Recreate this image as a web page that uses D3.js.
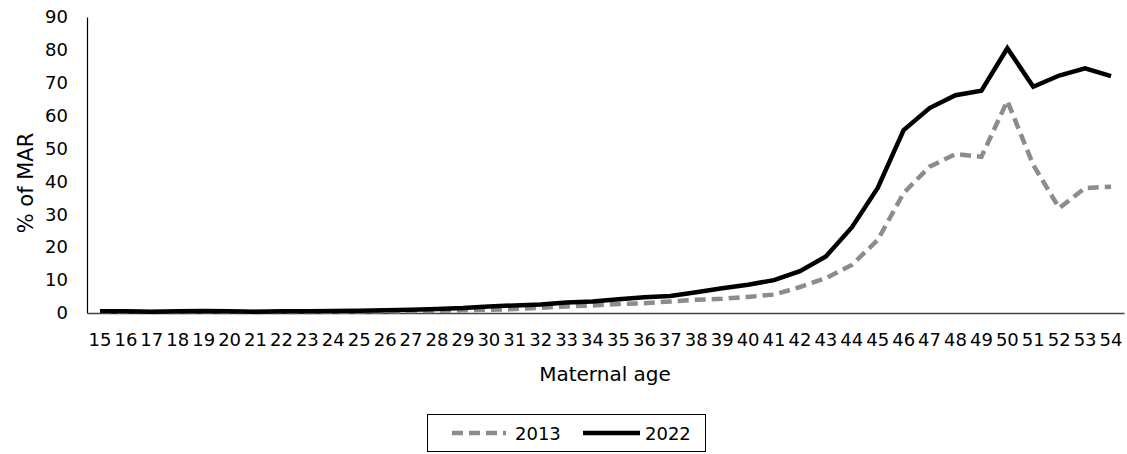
<!DOCTYPE html>
<html><head><meta charset="utf-8">
<script src="https://cdn.jsdelivr.net/npm/d3@7"></script>
<style>body{margin:0;background:#fff}svg text{font-family:"DejaVu Sans",Verdana,sans-serif;fill:#000}</style>
</head><body>
<svg id="c" width="1127" height="454"></svg>
<script>
const ages = d3.range(15, 55).map(String);
const s2013 = [0.4,0.4,0.3,0.3,0.4,0.3,0.3,0.3,0.3,0.4,0.5,0.5,0.6,0.7,0.8,1.0,1.2,1.6,2.0,2.3,2.7,3.0,3.5,4.0,4.3,4.9,5.6,7.9,10.6,14.6,22.2,36.5,44.5,48.3,47.5,64.5,45.0,31.9,38.0,38.4];
const s2022 = [0.5,0.5,0.4,0.5,0.6,0.5,0.4,0.5,0.5,0.6,0.7,0.8,1.0,1.2,1.5,2.0,2.3,2.6,3.2,3.5,4.2,4.8,5.2,6.3,7.5,8.6,10.0,12.7,17.2,26.0,38.0,55.6,62.3,66.2,67.6,80.5,68.8,72.2,74.4,72.0];
const yTicks = [0,10,20,30,40,50,60,70,80,90];
const seriesNames = ["2013","2022"];

const svg = d3.select("#c");
const L = 87, R = 1124, T = 17, B = 313;
const x = d3.scaleBand().domain(ages).range([L, R]);
const y = d3.scaleLinear().domain([0, 90]).range([B, T]);

// y axis
const ya = svg.append("g").attr("transform", `translate(${L},0)`)
  .call(d3.axisLeft(y).tickValues(yTicks).tickSize(0).tickPadding(19));
ya.select(".domain").attr("stroke", "#000").attr("stroke-width", 1.2);
ya.selectAll("text").style("font-size", "18px").style("font-family", '"DejaVu Sans",sans-serif').attr("fill", "#000");

// x axis
const xa = svg.append("g").attr("transform", `translate(0,${B})`)
  .call(d3.axisBottom(x).tickSize(0).tickPadding(20));
xa.select(".domain").attr("stroke", "#444").attr("stroke-width", 1.5);
xa.selectAll("text").style("font-size", "18px").style("font-family", '"DejaVu Sans",sans-serif').attr("fill", "#000");

const line = d3.line().x((d, i) => x(ages[i]) + x.bandwidth() / 2).y(d => y(d));

svg.append("path").datum(s2013).attr("d", line).attr("fill", "none")
  .attr("stroke", "#8c8c8c").attr("stroke-width", 4.5).attr("stroke-dasharray", "11,6");
svg.append("path").datum(s2022).attr("d", line).attr("fill", "none")
  .attr("stroke", "#000").attr("stroke-width", 4.5).attr("stroke-linejoin", "miter");

// axis titles
svg.append("text").attr("x", 605).attr("y", 381).attr("text-anchor", "middle")
  .style("font-size", "20px").text("Maternal age");
svg.append("text").attr("transform", "translate(33,183) rotate(-90)").attr("text-anchor", "middle")
  .style("font-size", "21px").text("% of MAR");

// legend
const lg = svg.append("g");
lg.append("rect").attr("x", 427.5).attr("y", 414.5).attr("width", 278).attr("height", 37)
  .attr("fill", "none").attr("stroke", "#000").attr("stroke-width", 1);
lg.append("line").attr("x1", 452).attr("x2", 506).attr("y1", 433).attr("y2", 433)
  .attr("stroke", "#8c8c8c").attr("stroke-width", 4.5).attr("stroke-dasharray", "11,6");
lg.append("text").attr("x", 515).attr("y", 440).style("font-size", "18px").text(seriesNames[0]);
lg.append("line").attr("x1", 583).attr("x2", 640).attr("y1", 433).attr("y2", 433)
  .attr("stroke", "#000").attr("stroke-width", 4.5);
lg.append("text").attr("x", 645).attr("y", 440).style("font-size", "18px").text(seriesNames[1]);
</script>
</body></html>
